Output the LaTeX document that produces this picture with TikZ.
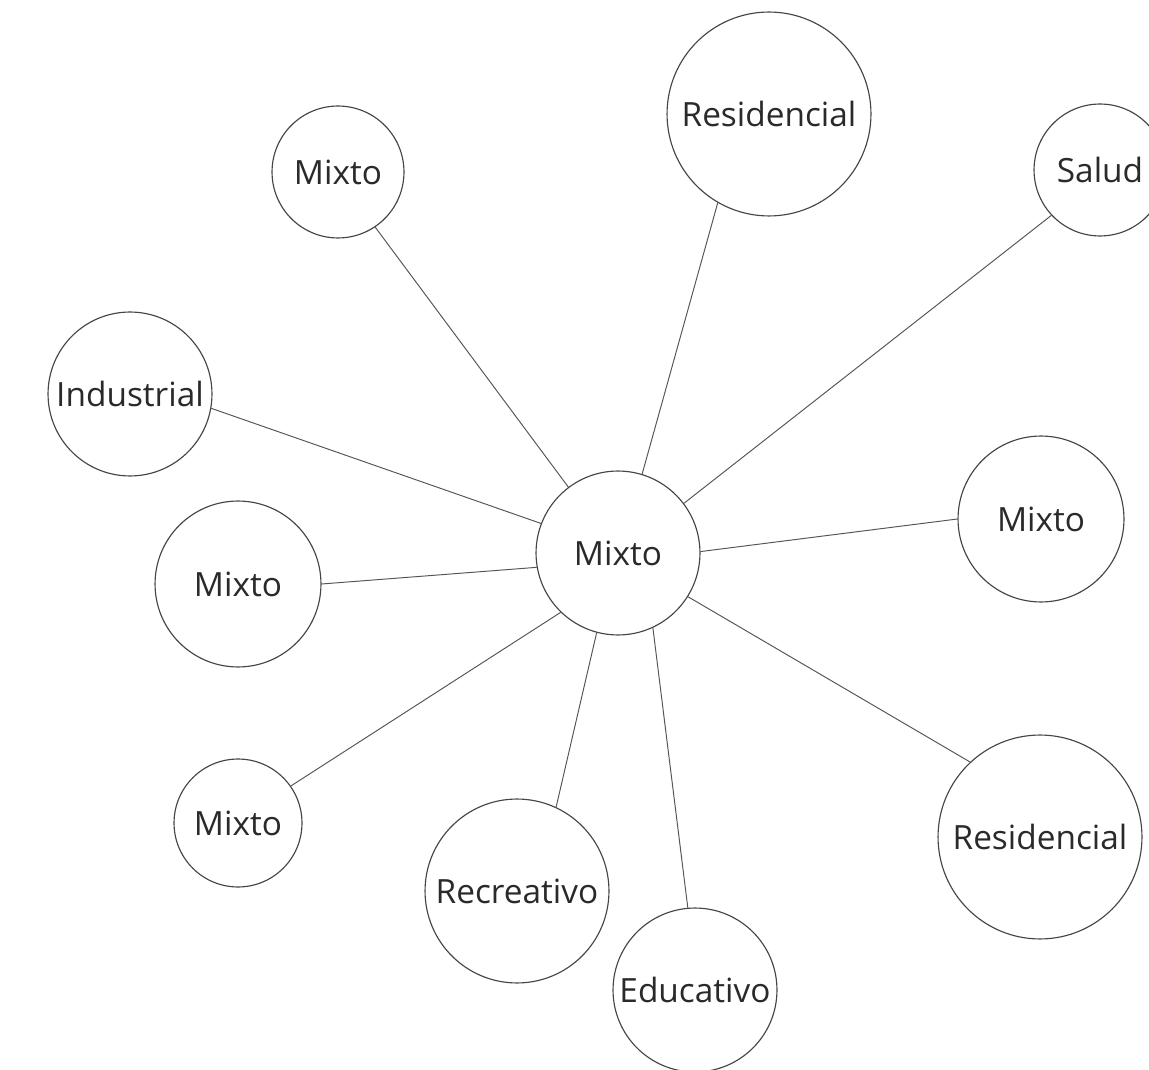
\documentclass[tikz,border=0pt]{standalone}
\usepackage{fontspec}
\setmainfont{Open Sans}
\definecolor{ink}{HTML}{2A2A2A}
\definecolor{rim}{HTML}{454545}
\definecolor{wire}{HTML}{555555}
\begin{document}
\begin{tikzpicture}[x=0.02cm,y=-0.02cm,
  zone/.style={circle,draw=rim,line width=0.65pt,fill=white,inner sep=0pt,
    minimum size=#1*0.04cm,text=ink,font=\fontsize{19}{22}\selectfont},
  link/.style={draw=wire,line width=0.55pt}]
\clip (0,0) rectangle (1149,1070);

\node[zone=82]  (mid)  at (618,553)  {Mixto};
\node[zone=102] (resN) at (769,114)  {Residencial};
\node[zone=66]  (sal)  at (1100,170) {Salud};
\node[zone=66]  (mixN) at (338,172)  {Mixto};
\node[zone=82]  (ind)  at (130,394)  {Industrial};
\node[zone=83]  (mixW) at (238,584)  {Mixto};
\node[zone=64]  (mixS) at (238,823)  {Mixto};
\node[zone=92]  (rec)  at (517,891)  {Recreativo};
\node[zone=82]  (edu)  at (695,990)  {Educativo};
\node[zone=102] (resS) at (1040,837) {Residencial};
\node[zone=83]  (mixE) at (1041,519) {Mixto};

% spokes: angle on the centre circle / target / angle on the target
\foreach \a/\n/\b in {73.6/resN/240.7, 37.1/sal/223.8, 127/mixN/304,
    159.3/ind/350.6, 190.4/mixW/0, 226.9/mixS/35.1, 255.8/rec/65.7,
    295.6/edu/95.5, 328.6/resS/133.4, 1.4/mixE/180}
  {\draw[link] (mid.\a) -- (\n.\b);}
\end{tikzpicture}
\end{document}
